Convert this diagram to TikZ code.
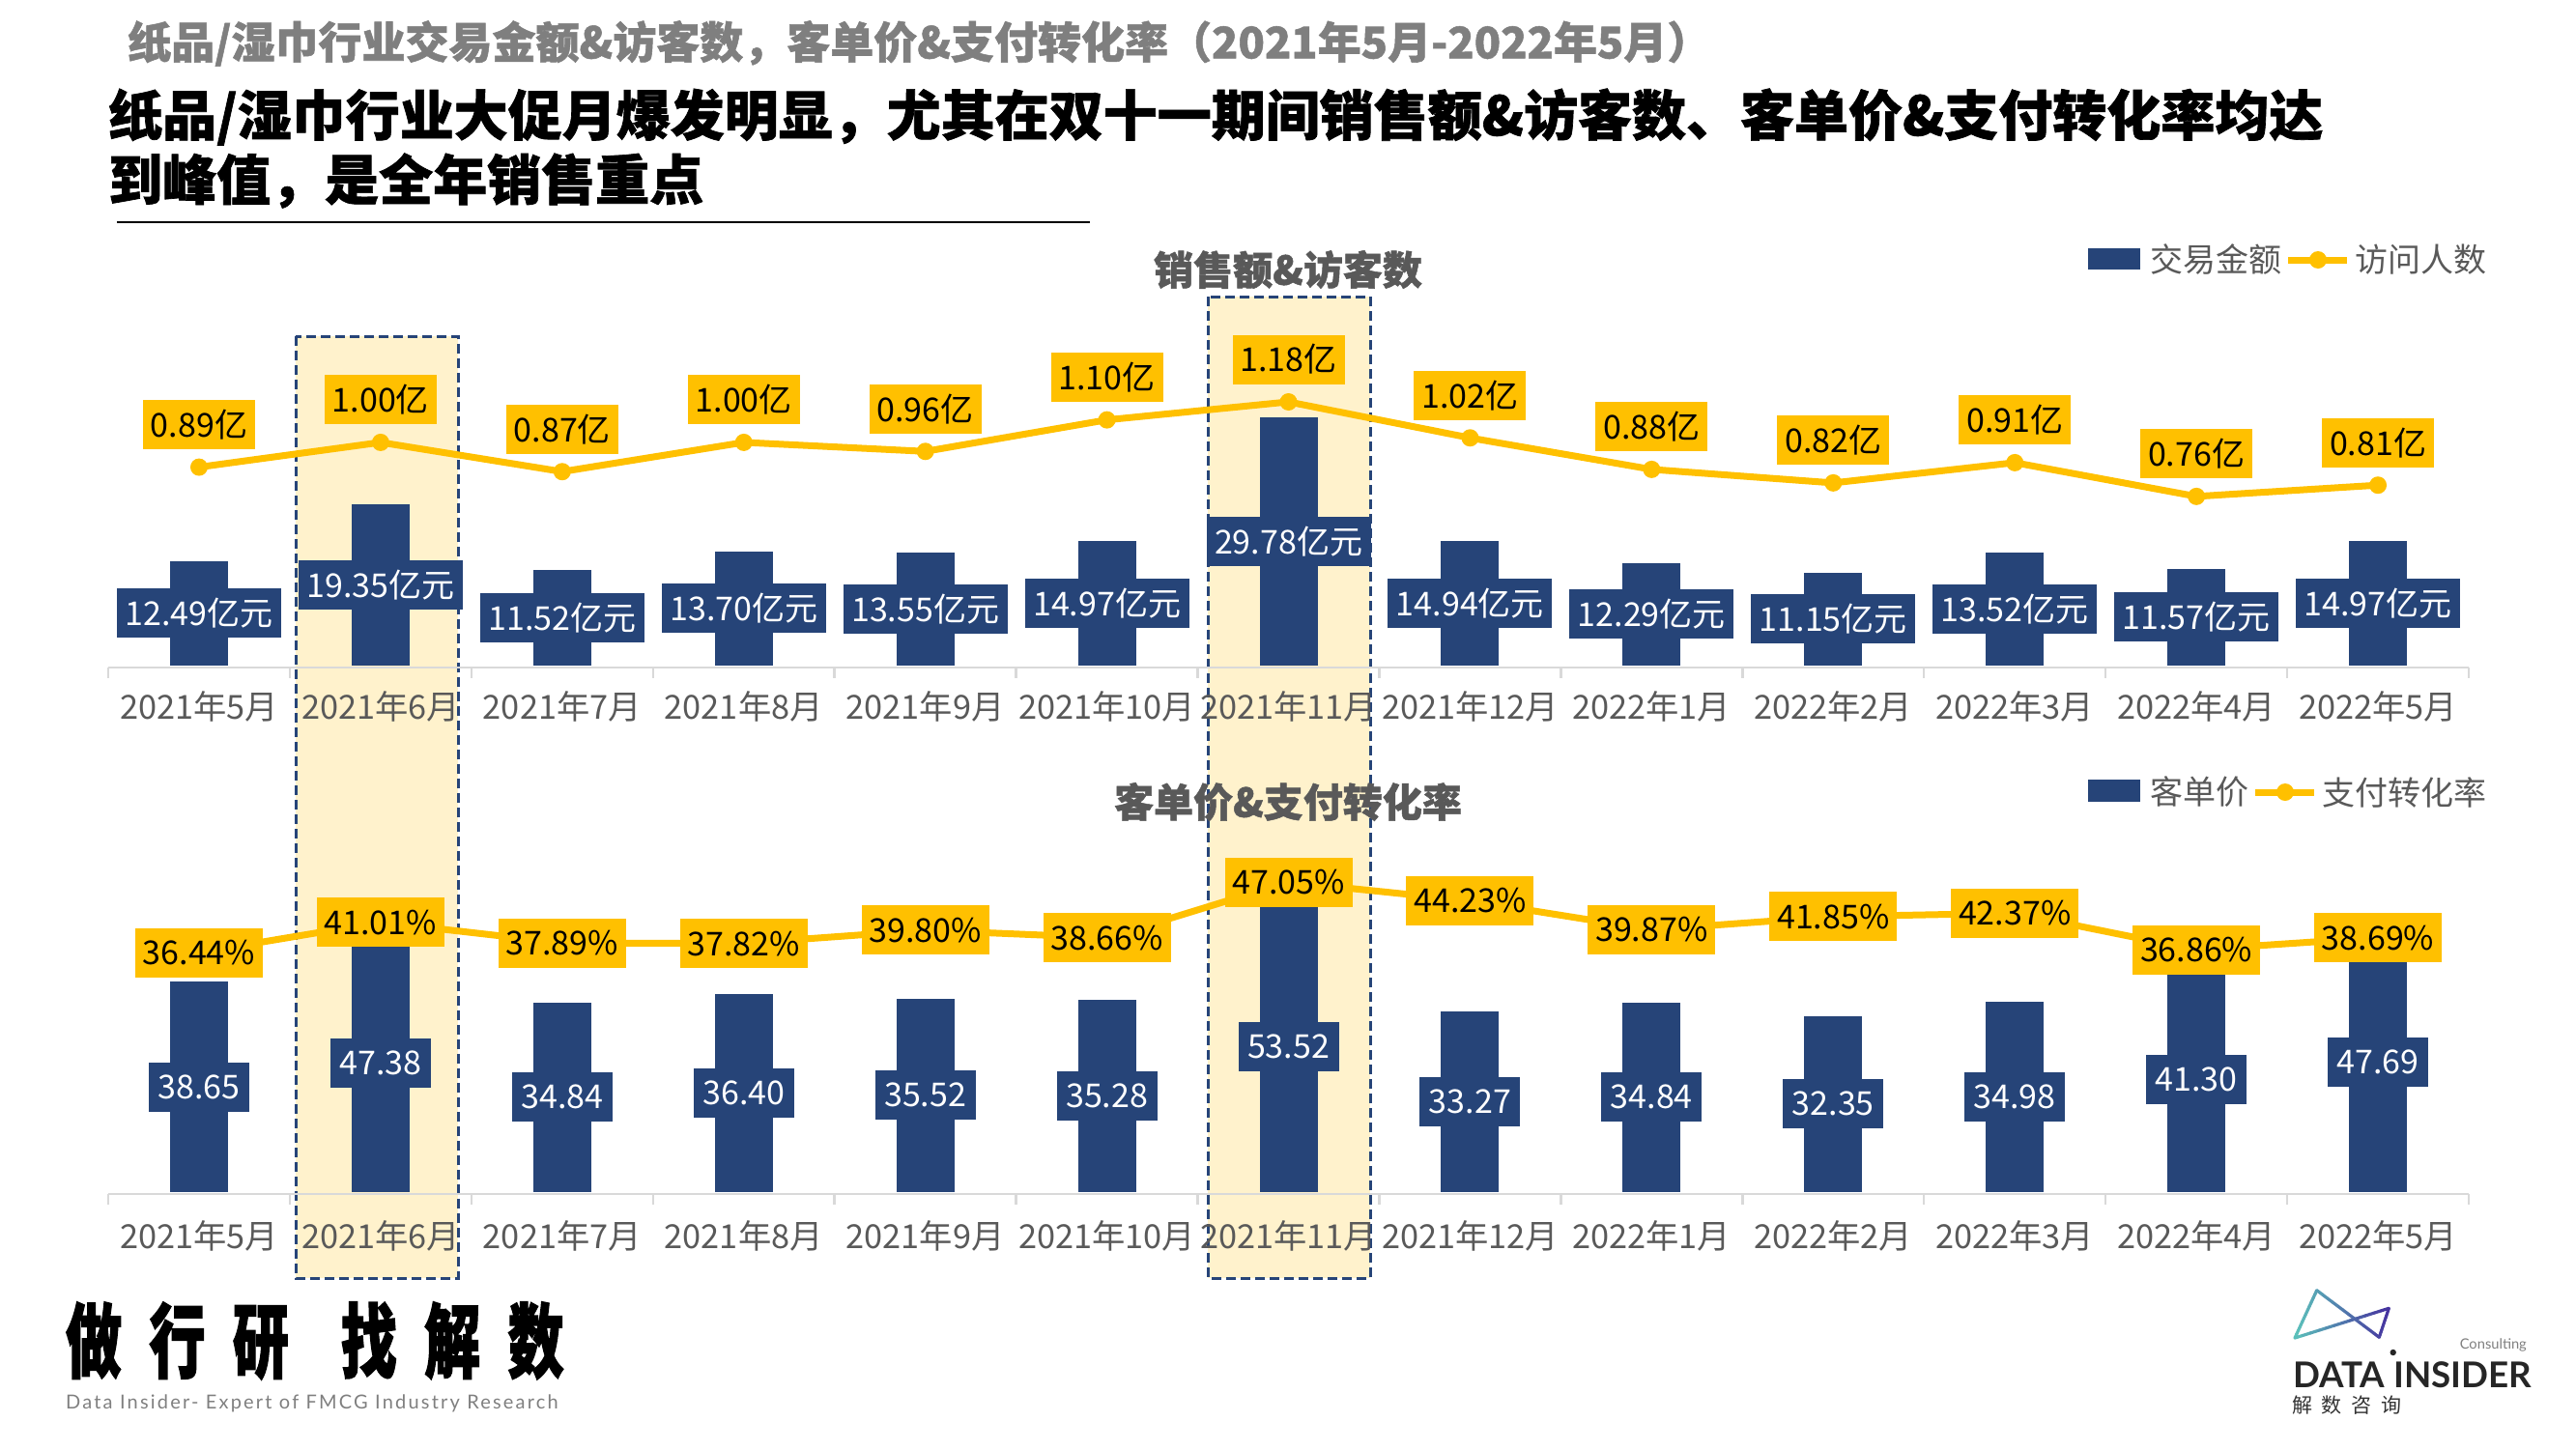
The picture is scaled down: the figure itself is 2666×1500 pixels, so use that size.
\documentclass[tikz,border=0pt]{standalone}
\usepackage{fontspec}
\setmainfont{Noto Sans CJK SC}[BoldFeatures={FakeBold=1.2}]
\newfontfamily\logofont[BoldFeatures={FakeBold=2},LetterSpace=49]{Noto Sans CJK SC}
\newfontfamily\tagfont[LetterSpace=11]{Lato}
\newfontfamily\brandfont{Lato}
\newfontfamily\zhspaced[LetterSpace=46]{Noto Sans CJK SC}
\definecolor{navy}{HTML}{264478}
\definecolor{gold}{HTML}{FFC000}
\definecolor{pale}{HTML}{FFF2CC}
\definecolor{axisgray}{HTML}{D9D9D9}
\definecolor{txtgray}{HTML}{595959}
\definecolor{subgray}{HTML}{7F7F7F}
\definecolor{logoteal}{HTML}{5CC3BB}
\definecolor{logoindigo}{HTML}{46329F}
\tikzset{
  x=1pt,y=-1pt,
  fs/.style={font=\fontsize{#1}{#1}\selectfont},
  barbox/.style={fill=navy,draw=none,inner sep=0pt,minimum width=60pt,anchor=south},
  navylabel/.style={fill=navy,text=white,inner sep=0pt,minimum height=51pt,fs=34},
  goldlabel/.style={fill=gold,text=black,inner sep=0pt,minimum height=51pt,fs=34},
  dotmark/.style={circle,fill=gold,inner sep=0pt,minimum size=18pt},
  goldline/.style={draw=gold,line width=7pt},
  catlabel/.style={text=txtgray,fs=34.3,inner sep=0pt},
  legendtext/.style={text=txtgray,fs=34,inner sep=0pt,anchor=west},
  charttitle/.style={text=txtgray,fs=41,inner sep=0pt},
  hibox/.style={fill=pale,draw=navy,line width=3pt,dash pattern=on 10pt off 5pt},
  axisline/.style={draw=axisgray,line width=2.5pt},
}
\begin{document}
\begin{tikzpicture}
\useasboundingbox (0,0) rectangle (2666,1500);
% highlight boxes
\draw[hibox] (306,348) rectangle (474,1323);
\draw[hibox] (1250,307) rectangle (1418,1323);
% titles
\node[anchor=west,inner sep=0pt,text=subgray,fs=45] (sub) at (132,45) {\bfseries 纸品/湿巾行业交易金额\&访客数，客单价\&支付转化率（2021年5月-2022年5月）};
\node[anchor=west,inner sep=0pt,text=black,fs=56] (t1) at (112,121) {\bfseries 纸品/湿巾行业大促月爆发明显，尤其在双十一期间销售额\&访客数、客单价\&支付转化率均达};
\node[anchor=west,inner sep=0pt,text=black,fs=56] (t2) at (112,187) {\bfseries 到峰值，是全年销售重点};
\coordinate (ruleL) at (121,230);
\coordinate (ruleR) at (1128,230);
\draw[black,line width=2.5pt] (ruleL) -- (ruleR);
\node[charttitle] (ct1) at (1333,279) {\bfseries 销售额\&访客数};
\node[charttitle] (ct2) at (1333,830) {\bfseries 客单价\&支付转化率};
% axes
\coordinate (ax1L) at (112,691); \coordinate (ax1R) at (2555,691);
\coordinate (ax2L) at (112,1236); \coordinate (ax2R) at (2555,1236);
\draw[axisline] (ax1L) -- (ax1R);
\draw[axisline] (ax2L) -- (ax2R);
\foreach \i in {0,...,13}{
  \pgfmathsetmacro\tx{112+187.92*\i}
  \draw[axisline] (\tx,691) -- (\tx,702);
  \draw[axisline] (\tx,1236) -- (\tx,1247);
}
% categories
\foreach \i/\c in {1/2021年5月,2/2021年6月,3/2021年7月,4/2021年8月,5/2021年9月,6/2021年10月,7/2021年11月,8/2021年12月,9/2022年1月,10/2022年2月,11/2022年3月,12/2022年4月,13/2022年5月}{
  \pgfmathsetmacro\cx{206+187.92*(\i-1)}
  \node[catlabel] (ca\i) at (\cx,731) {\c};
  \node[catlabel] (cb\i) at (\cx,1279) {\c};
}
% top bars
\foreach \i/\v in {1/12.49,2/19.35,3/11.52,4/13.70,5/13.55,6/14.97,7/29.78,8/14.94,9/12.29,10/11.15,11/13.52,12/11.57,13/14.97}{
  \pgfmathsetmacro\cx{206+187.92*(\i-1)}
  \pgfmathsetmacro\hh{\v*8.62}
  \node[barbox,minimum height=\hh pt] (ba\i) at (\cx,689) {};
}
% bottom bars
\foreach \i/\v in {1/38.65,2/47.38,3/34.84,4/36.40,5/35.52,6/35.28,7/53.52,8/33.27,9/34.84,10/32.35,11/34.98,12/41.30,13/47.69}{
  \pgfmathsetmacro\cx{206+187.92*(\i-1)}
  \pgfmathsetmacro\hh{\v*5.63}
  \node[barbox,minimum height=\hh pt] (bb\i) at (\cx,1234) {};
}
% top line points
\foreach \i/\v in {1/0.89,2/1.00,3/0.87,4/1.00,5/0.96,6/1.10,7/1.18,8/1.02,9/0.88,10/0.82,11/0.91,12/0.76,13/0.81}{
  \pgfmathsetmacro\cx{206+187.92*(\i-1)}
  \pgfmathsetmacro\cy{416+(1.18-\v)*233}
  \node[dotmark] (ma\i) at (\cx,\cy) {};
}
\foreach \i [evaluate=\i as \j using int(\i+1)] in {1,...,12}{
  \draw[goldline] (ma\i.center) -- (ma\j.center);
}
% bottom line points
\foreach \i/\v in {1/36.44,2/41.01,3/37.89,4/37.82,5/39.80,6/38.66,7/47.05,8/44.23,9/39.87,10/41.85,11/42.37,12/36.86,13/38.69}{
  \pgfmathsetmacro\cx{206+187.92*(\i-1)}
  \pgfmathsetmacro\cy{913+(47.05-\v)*6.885}
  \node[dotmark] (mb\i) at (\cx,\cy) {};
}
\foreach \i [evaluate=\i as \j using int(\i+1)] in {1,...,12}{
  \draw[goldline] (mb\i.center) -- (mb\j.center);
}
% labels
\foreach \i/\v in {1/12.49,2/19.35,3/11.52,4/13.70,5/13.55,6/14.97,7/29.78,8/14.94,9/12.29,10/11.15,11/13.52,12/11.57,13/14.97}{
  \node[navylabel,minimum width=170pt] (la\i) at (ba\i.center) {\v 亿元};
}
\foreach \i/\v in {1/38.65,2/47.38,3/34.84,4/36.40,5/35.52,6/35.28,7/53.52,8/33.27,9/34.84,10/32.35,11/34.98,12/41.30,13/47.69}{
  \node[navylabel,minimum width=104pt] (lb\i) at (bb\i.center) {\v};
}
\foreach \i/\v in {1/0.89,2/1.00,3/0.87,4/1.00,5/0.96,6/1.10,7/1.18,8/1.02,9/0.88,10/0.82,11/0.91,12/0.76,13/0.81}{
  \node[goldlabel,minimum width=116pt,yshift=44pt] (ga\i) at (ma\i.center) {\v 亿};
}
\foreach \i/\v in {1/36.44,2/41.01,3/37.89,4/37.82,5/39.80,6/38.66,7/47.05,8/44.23,9/39.87,10/41.85,11/42.37,12/36.86,13/38.69}{
  \node[goldlabel,minimum width=132pt] (gb\i) at (mb\i.center) {\v\%};
}
% legends
\fill[navy] (2161,257) rectangle (2215,279);
\node[legendtext] (lg1) at (2225,269) {交易金额};
\node[dotmark] (lgm1) at (2399,269) {};
\coordinate (lg1a) at (2368,269); \coordinate (lg1b) at (2429,269);
\draw[goldline] (lg1a) -- (lg1b);
\node[legendtext] (lg2) at (2437,269) {访问人数};
\fill[navy] (2161,807) rectangle (2215,830);
\node[legendtext] (lg3) at (2225,820) {客单价};
\node[dotmark] (lgm2) at (2365,820) {};
\coordinate (lg2a) at (2334,820); \coordinate (lg2b) at (2395,820);
\draw[goldline] (lg2a) -- (lg2b);
\node[legendtext] (lg4) at (2403,820) {支付转化率};
% footer left
\node[anchor=west,inner sep=0pt] (slogan) at (68,1388) {\fontsize{84}{84}\logofont\bfseries\scalebox{0.69}[1]{做行研}\kern 54pt\scalebox{0.69}[1]{找解数}};
\node[anchor=west,inner sep=0pt,text=subgray] (tag) at (68,1453) {\fontsize{20}{20}\tagfont Data Insider- Expert of FMCG Industry Research};
% footer right logo
\foreach \ax/\ay/\bx/\by in {2397.7/1335.7/2375/1385,2375/1385/2472.3/1354.3,2472.3/1354.3/2462.3/1384.3,2462.3/1384.3/2397.7/1335.7}{
  \foreach \k in {0,...,11}{
    \pgfmathsetmacro\xa{\ax+(\bx-\ax)*\k/12}
    \pgfmathsetmacro\ya{\ay+(\by-\ay)*\k/12}
    \pgfmathsetmacro\xb{\ax+(\bx-\ax)*(\k+1)/12}
    \pgfmathsetmacro\yb{\ay+(\by-\ay)*(\k+1)/12}
    \pgfmathsetmacro\pc{min(100,max(0,(\xa+\xb)/2-2375)/97.3*100)}
    \draw[color=logoindigo!\pc!logoteal,line width=3.2pt,line cap=round] (\xa,\ya) -- (\xb,\yb);
  }
}
\node[anchor=east,inner sep=0pt,text=subgray] (cons) at (2615,1392) {\resizebox{69pt}{!}{\brandfont Consulting}};
\node[anchor=west,inner sep=0pt,text=black!85] (brand) at (2373,1423) {\resizebox{247pt}{!}{\bfseries\brandfont DATA INSIDER}};
\fill[black!85] (2476.7,1400) circle (3.2pt);
\node[anchor=west,inner sep=0pt,text=black!80] (zh) at (2372,1455) {\fontsize{21}{21}\zhspaced 解数咨询};
\end{tikzpicture}
\end{document}
